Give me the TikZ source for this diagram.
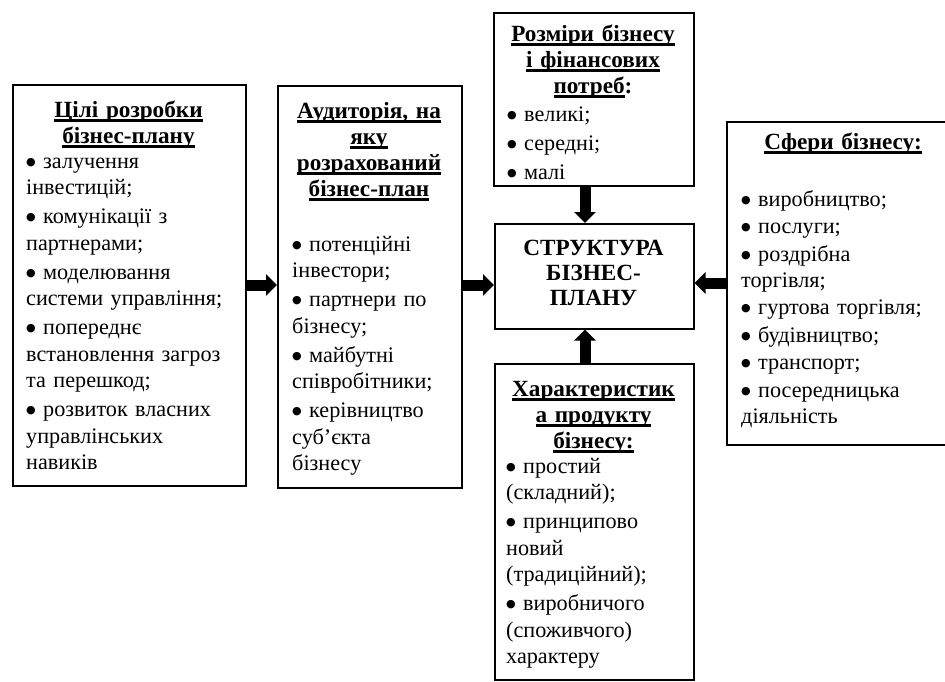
\documentclass[tikz,border=0pt]{standalone}
\usepackage{fontspec}
\setmainfont{Liberation Serif}
\newfontfamily\symfont{DejaVu Sans}
\usetikzlibrary{arrows.meta}

% thick underline for the box headings
\newsavebox\hulbox
\newcommand\hul[1]{\leavevmode\sbox\hulbox{#1}\rlap{\rule[-4.5pt]{\wd\hulbox}{2.2pt}}\usebox\hulbox}
% list bullet
\newcommand\bl{\raisebox{2.6pt}{\symfont\fontsize{11}{10}\selectfont ●}\ }
\newcommand\nx{\\[2.5pt]}

\begin{document}
\begin{tikzpicture}[x=1pt,y=-1pt,
  box/.style={draw, line width=1.5pt, inner sep=0pt, anchor=north west, fill=white},
  head/.style={inner sep=0pt, anchor=base, align=center,
    font=\fontsize{23.2}{26}\selectfont\bfseries},
  body/.style={inner sep=0pt, anchor=base west, align=left,
    font=\fontsize{22.2}{26.5}\selectfont},
  bigarrow/.style={line width=11pt, -{Triangle[width=21pt,length=11pt]}}]
\useasboundingbox (0,0) rectangle (945,681);
\clip (0,0) rectangle (945,681);
\fill[white] (0,0) rectangle (945,681);

% frames
\node[box, minimum width=233pt, minimum height=401pt] (goals) at (12,84) {};
\node[box, minimum width=184pt, minimum height=402pt] (aud) at (277,85) {};
\node[box, minimum width=200pt, minimum height=173pt] (sizes) at (493,12) {};
\node[box, minimum width=199pt, minimum height=105pt] (core) at (494,223) {};
\node[box, minimum width=199pt, minimum height=316pt] (product) at (494,363) {};
\node[box, minimum width=234pt, minimum height=323pt] (spheres) at (726,121) {};

% goals of the business plan
\node[head, text width=223pt] (goalsH) at (128.5,117)
  {\hul{Цілі розробки}\\\hul{бізнес-плану}};
\node[body, text width=214pt] (goalsB) at (26,168)
  {\bl залучення\\інвестицій;\nx
   \bl комунікації з\\партнерами;\nx
   \bl моделювання\\системи управління;\nx
   \bl попереднє\\встановлення загроз\\та перешкод;\nx
   \bl розвиток власних\\управлінських\\навиків};

% audience
\node[head, text width=174pt] (audH) at (369,118)
  {\hul{Аудиторія, на}\\\hul{яку}\\\hul{розрахований}\\\hul{бізнес-план}};
\node[body, text width=164pt] (audB) at (292,251)
  {\bl потенційні\\інвестори;\nx
   \bl партнери по\\бізнесу;\nx
   \bl майбутні\\співробітники;\nx
   \bl керівництво\\суб’єкта\\бізнесу};

% size and financial needs
\node[head, text width=190pt] (sizesH) at (593,41)
  {\hul{Розміри бізнесу}\\\hul{і фінансових}\\\hul{потреб}:};
\node[body, text width=180pt] (sizesB) at (507,121)
  {\bl великі;\nx
   \bl середні;\nx
   \bl малі};

% centre
\node[head, font=\fontsize{23.2}{25}\selectfont\bfseries, text width=189pt] (coreT) at (593.5,255)
  {СТРУКТУРА\\БІЗНЕС-\\ПЛАНУ};

% product
\node[head, text width=189pt] (productH) at (593.5,396)
  {\hul{Характеристик}\\\hul{а продукту}\\\hul{бізнесу:}};
\node[body, text width=180pt] (productB) at (506,473)
  {\bl простий\\(складний);\nx
   \bl принципово\\новий\\(традиційний);\nx
   \bl виробничого\\(споживчого)\\характеру};

% business spheres
\node[head, text width=224pt] (spheresH) at (843,149)
  {\hul{Сфери бізнесу:}};
\node[body, font=\fontsize{22.2}{26}\selectfont, text width=200pt] (spheresB) at (741,206)
  {\bl виробництво;\\[1.5pt]
   \bl послуги;\\[1.5pt]
   \bl роздрібна\\торгівля;\\[1.5pt]
   \bl гуртова торгівля;\\[1.5pt]
   \bl будівництво;\\[1.5pt]
   \bl транспорт;\\[1.5pt]
   \bl посередницька\\діяльність};

% connectors
\coordinate (hl) at (0,285);
\coordinate (hr) at (0,283);
\coordinate (vx) at (585,0);
\draw[bigarrow] (goals.east |- hl) -- (aud.west |- hl);
\draw[bigarrow] (aud.east |- hl) -- (core.west |- hl);
\draw[bigarrow] (spheres.west |- hr) -- (core.east |- hr);
\draw[bigarrow] (sizes.south -| vx) -- (core.north -| vx);
\draw[bigarrow] (product.north -| vx) -- (core.south -| vx);
\end{tikzpicture}
\end{document}
